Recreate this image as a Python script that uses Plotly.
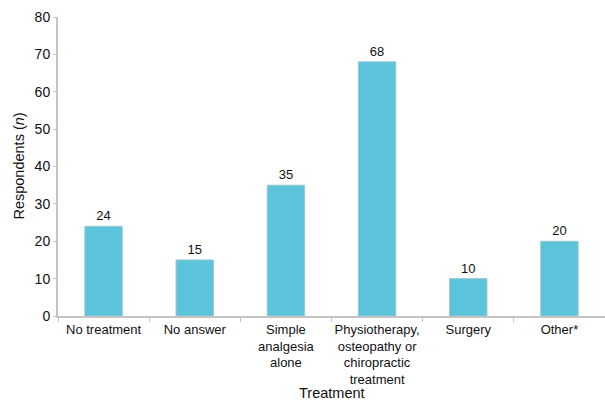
import plotly.graph_objects as go

categories = ["No treatment", "No answer", "Simple<br>analgesia<br>alone",
              "Physiotherapy,<br>osteopathy or<br>chiropractic<br>treatment",
              "Surgery", "Other*"]
values = [24, 15, 35, 68, 10, 20]
y_ticks = [0, 10, 20, 30, 40, 50, 60, 70, 80]

FONT = "Liberation Sans, Arial, Helvetica, sans-serif"

fig = go.Figure()
fig.add_trace(go.Bar(
    x=categories, y=values,
    marker=dict(color="#5bc3da", line=dict(color="#9cc7d2", width=1)),
    width=0.41,
    text=[str(v) for v in values], textposition="outside",
    textfont=dict(size=13, color="#111111", family=FONT),
    cliponaxis=False,
))

fig.update_layout(
    width=605, height=401,
    margin=dict(l=58, r=0, t=17, b=85),
    paper_bgcolor="white", plot_bgcolor="white",
    font=dict(family=FONT, size=13, color="#111111"),
    showlegend=False,
    annotations=[
        dict(text="Treatment", xref="paper", yref="paper", x=0.5, y=-0.257,
             xanchor="center", yanchor="middle", showarrow=False,
             font=dict(size=14.5, family=FONT, color="#111111")),
        dict(text="Respondents (<i>n</i>)", xref="paper", yref="paper", x=-0.073, y=0.5,
             xanchor="center", yanchor="middle", textangle=-90, showarrow=False,
             font=dict(size=14.5, family=FONT, color="#111111")),
    ],
)
fig.update_xaxes(
    automargin=False, tickangle=0,
    showline=True, linecolor="#c4c4c4", linewidth=2,
    ticks="outside", ticklen=4, tickcolor="#c4c4c4", tickson="boundaries",
    showgrid=False,
    tickfont=dict(size=13, family=FONT, color="#111111"),
)
fig.update_yaxes(
    automargin=False,
    range=[0, 80], tickvals=y_ticks,
    showline=True, linecolor="#c4c4c4", linewidth=2,
    ticks="outside", ticklen=3, tickcolor="#c4c4c4",
    showgrid=False, zeroline=False,
    tickfont=dict(size=14, family=FONT, color="#111111"),
)
fig.write_html("out.html")
